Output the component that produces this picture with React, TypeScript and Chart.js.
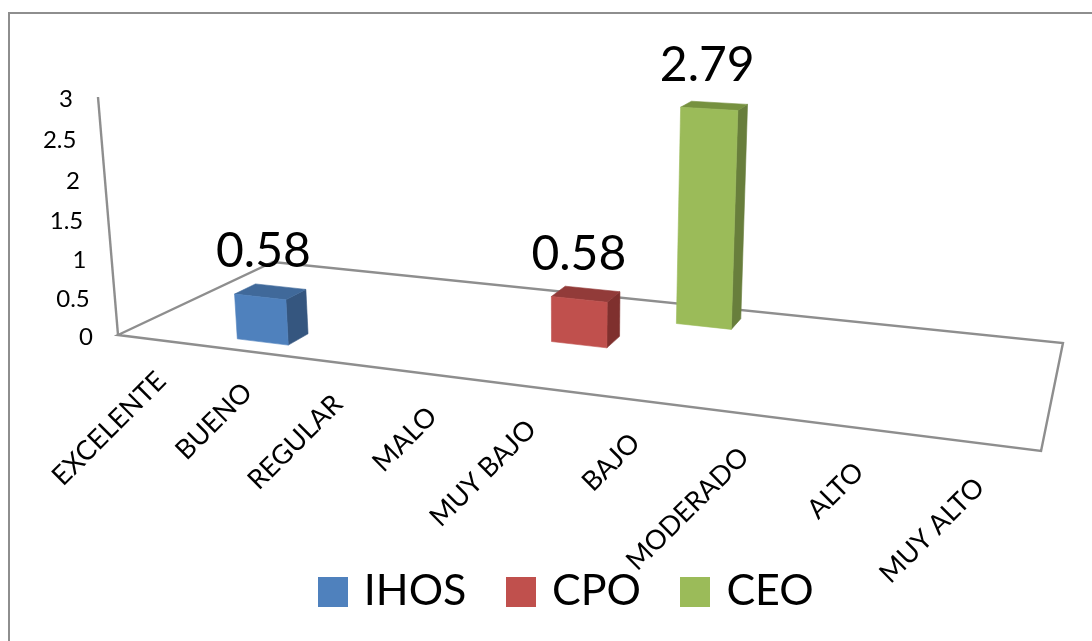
import React, { useEffect, useRef } from "react";
import { Chart, registerables } from "chart.js";

Chart.register(...registerables);

const categories = ["EXCELENTE", "BUENO", "REGULAR", "MALO", "MUY BAJO", "BAJO", "MODERADO", "ALTO", "MUY ALTO"];
const ihosValues = [null, 0.58, null, null, null, null, null, null, null];
const cpoValues = [null, null, null, null, 0.58, null, null, null, null];
const ceoValues = [null, null, null, null, null, 2.79, null, null, null];

const seriesColors = ["#4F81BD", "#C0504D", "#9BBB59"];
const sideColors = ["#35567F", "#7F302E", "#687E3C"];
const topColors = ["#40699A", "#923B39", "#76913F"];

const FONT = "Lato, Carlito, sans-serif";
const LINE = "#8E8E8E";
const BAR_DEPTH = 0.13;

// Perspective camera: u runs along the categories, v into the depth, w up the value axis.
function project(u: number, v: number, w: number): [number, number] {
  const d = -0.1938 * u + 0.1738 * v - 0.0423 * w + 1;
  return [
    (721.3 * u + 202.4 * v - 24.15 * w + 118) / d,
    (28.6 * u - 27.5 * v - 242.1 * w + 335) / d,
  ];
}

function polygon(ctx: CanvasRenderingContext2D, pts: [number, number][], fill: string) {
  ctx.beginPath();
  pts.forEach((p, i) => (i ? ctx.lineTo(p[0], p[1]) : ctx.moveTo(p[0], p[1])));
  ctx.closePath();
  ctx.fillStyle = fill;
  ctx.strokeStyle = fill;
  ctx.lineWidth = 0.6;
  ctx.fill();
  ctx.stroke();
}

const perspective = {
  id: "perspective",
  afterLayout(chart: any) {
    // The legend sits low in the frame, below the floor of the plot.
    const legend = chart.legend;
    legend.left -= 11;
    legend.right -= 11;
    const shift = 525 - legend.top;
    legend.top += shift;
    legend.bottom += shift;
  },
  beforeDraw(chart: any) {
    const { ctx } = chart;
    ctx.save();
    ctx.strokeStyle = LINE;
    ctx.lineWidth = 2;
    ctx.strokeRect(9, 13, 2000, 2000);
    ctx.restore();
  },
  beforeDatasetsDraw(chart: any) {
    const { ctx } = chart;
    const x = chart.scales.x;
    const y = chart.scales.y;
    ctx.save();
    ctx.strokeStyle = LINE;
    ctx.lineWidth = 2.4;
    ctx.lineJoin = "miter";

    // Floor outline and the upright value axis.
    const floor = [project(0, 0, 0), project(1, 0, 0), project(1, 1, 0), project(0, 1, 0)];
    ctx.beginPath();
    floor.forEach((p, i) => (i ? ctx.lineTo(p[0], p[1]) : ctx.moveTo(p[0], p[1])));
    ctx.closePath();
    ctx.stroke();
    const axisTop = project(0, 0, 1);
    ctx.beginPath();
    ctx.moveTo(floor[0][0], floor[0][1]);
    ctx.lineTo(axisTop[0], axisTop[1]);
    ctx.stroke();

    // Value ticks follow the slant of the axis.
    ctx.fillStyle = "#000";
    ctx.font = `24px ${FONT}`;
    ctx.textAlign = "right";
    ctx.textBaseline = "middle";
    y.ticks.forEach((tick: any) => {
      const w = (y.bottom - y.getPixelForValue(tick.value)) / (y.bottom - y.top);
      const p = project(0, 0, w);
      ctx.fillText(tick.label, p[0] - 25, p[1] + 2.5);
    });

    // Category labels hang off the front edge of the floor at 45 degrees.
    ctx.font = `27px ${FONT}`;
    categories.forEach((label, i) => {
      const u = (x.getPixelForValue(i) - x.left) / (x.right - x.left);
      const p = project(u, 0, 0);
      ctx.save();
      ctx.translate(p[0] + 1.5, p[1] + 36 + 4 * u);
      ctx.rotate(-Math.PI / 4);
      ctx.fillText(label, 0, 0);
      ctx.restore();
    });
    ctx.restore();
  },
  beforeDatasetDraw(chart: any, args: any) {
    const { ctx } = chart;
    const x = chart.scales.x;
    const y = chart.scales.y;
    const idx = args.index;
    const vc = (idx + 0.5) / chart.data.datasets.length;
    const v0 = vc - BAR_DEPTH / 2;
    const v1 = vc + BAR_DEPTH / 2;
    ctx.save();
    args.meta.data.forEach((el: any, i: number) => {
      if (chart.data.datasets[idx].data[i] == null) return;
      const { x: cx, y: top, width } = el.getProps(["x", "y", "width"], true);
      const u0 = (cx - width / 2 - x.left) / (x.right - x.left);
      const u1 = (cx + width / 2 - x.left) / (x.right - x.left);
      const w = (y.bottom - top) / (y.bottom - y.top);
      polygon(ctx, [project(u1, v0, 0), project(u1, v1, 0), project(u1, v1, w), project(u1, v0, w)], sideColors[idx]);
      polygon(ctx, [project(u0, v0, w), project(u1, v0, w), project(u1, v1, w), project(u0, v1, w)], topColors[idx]);
      polygon(ctx, [project(u0, v0, 0), project(u1, v0, 0), project(u1, v0, w), project(u0, v0, w)], seriesColors[idx]);
    });
    ctx.restore();
    return false;
  },
  afterDatasetsDraw(chart: any) {
    const { ctx } = chart;
    const x = chart.scales.x;
    const y = chart.scales.y;
    ctx.save();
    ctx.fillStyle = "#000";
    ctx.font = `48px ${FONT}`;
    ctx.textAlign = "center";
    ctx.textBaseline = "middle";
    chart.data.datasets.forEach((ds: any, idx: number) => {
      const v = (idx + 0.5) / chart.data.datasets.length;
      ds.data.forEach((value: number | null, i: number) => {
        if (value == null) return;
        const u = (x.getPixelForValue(i) - x.left) / (x.right - x.left);
        const w = (y.bottom - y.getPixelForValue(value)) / (y.bottom - y.top);
        const p = project(u, v, w);
        ctx.fillText(String(value), p[0] - 7, p[1] - 40);
      });
    });
    ctx.restore();
  },
};

// Legend swatch as a small bitmap, so its width can differ from the text gap.
function swatch(color: string) {
  const c = document.createElement("canvas");
  c.width = 30;
  c.height = 30;
  const g = c.getContext("2d")!;
  g.fillStyle = color;
  g.fillRect(0, 0, 30, 30);
  return c;
}

export default function App() {
  const ref = useRef<HTMLCanvasElement>(null);
  useEffect(() => {
    const chart = new Chart(ref.current!, {
      type: "bar",
      data: {
        labels: categories,
        datasets: [
          { label: "IHOS", data: ihosValues, backgroundColor: seriesColors[0] },
          { label: "CPO", data: cpoValues, backgroundColor: seriesColors[1] },
          { label: "CEO", data: ceoValues, backgroundColor: seriesColors[2] },
        ],
      },
      options: {
        responsive: false,
        animation: false,
        layout: { padding: { left: 118, right: 51, top: 97, bottom: 170 } },
        datasets: { bar: { grouped: false, categoryPercentage: 1, barPercentage: 0.585 } },
        scales: {
          x: { display: false, offset: true },
          y: {
            display: false,
            min: 0,
            max: 3,
            ticks: { stepSize: 0.5, callback: (v: any) => String(v) },
          },
        },
        plugins: {
          tooltip: { enabled: false },
          legend: {
            position: "bottom",
            labels: {
              color: "#000",
              font: { family: FONT, size: 43 },
              boxWidth: 19,
              boxHeight: 19,
              padding: 45,
              usePointStyle: true,
              generateLabels: (c: any) =>
                c.data.datasets.map((ds: any, i: number) => ({
                  text: ds.label,
                  fillStyle: ds.backgroundColor,
                  strokeStyle: ds.backgroundColor,
                  lineWidth: 0,
                  pointStyle: swatch(seriesColors[i]),
                  datasetIndex: i,
                })),
            },
          },
        },
      } as any,
      plugins: [perspective],
    });
    return () => chart.destroy();
  }, []);
  return (
    <div style={{ position: "absolute", left: 0, top: 0, width: 1092, height: 641, background: "#fff" }}>
      <canvas ref={ref} width={1092} height={641} style={{ display: "block" }} />
    </div>
  );
}
